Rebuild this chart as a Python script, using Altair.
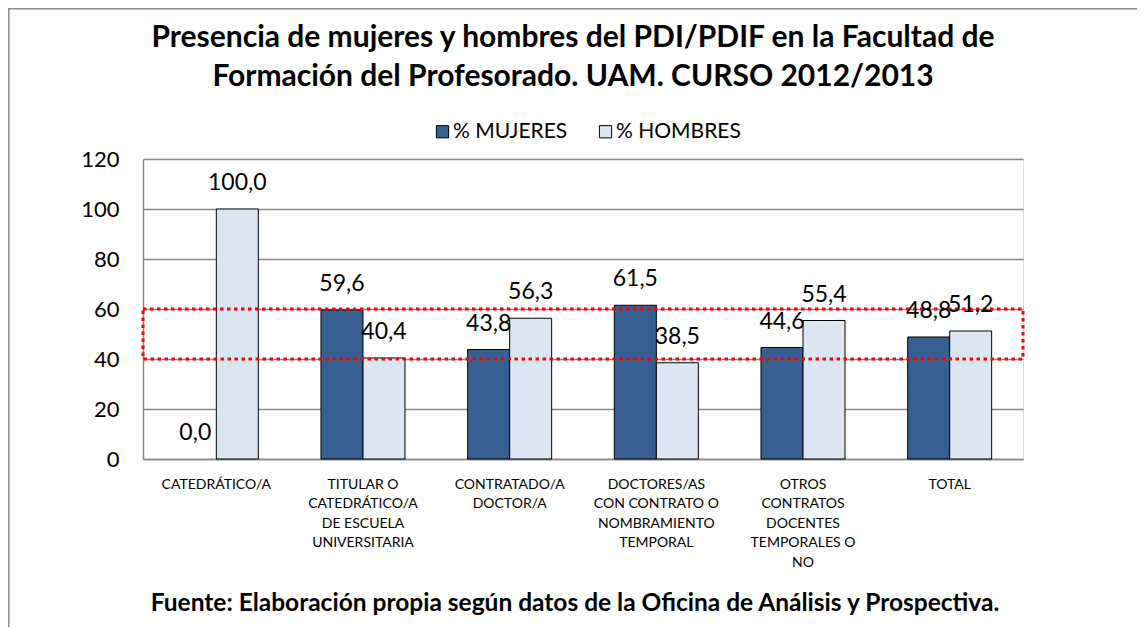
import altair as alt
import pandas as pd

categorias = [
    "CATEDRÁTICO/A",
    "TITULAR O\nCATEDRÁTICO/A\nDE ESCUELA\nUNIVERSITARIA",
    "CONTRATADO/A\nDOCTOR/A",
    "DOCTORES/AS\nCON CONTRATO O\nNOMBRAMIENTO\nTEMPORAL",
    "OTROS\nCONTRATOS\nDOCENTES\nTEMPORALES O\nNO",
    "TOTAL",
]
series = ["% MUJERES", "% HOMBRES"]
mujeres = [0.0, 59.6, 43.8, 61.5, 44.6, 48.8]
hombres = [100.0, 40.4, 56.3, 38.5, 55.4, 51.2]
franja = [40, 60]
titulo = ["Presencia de mujeres y hombres del PDI/PDIF en la Facultad de",
          "Formación  del Profesorado. UAM. CURSO 2012/2013"]
fuente = "Fuente: Elaboración propia según datos de la Oficina de Análisis y Prospectiva."
colores = ["#375F92", "#DCE6F2"]

rows = []
for c, m, h in zip(categorias, mujeres, hombres):
    rows.append({"categoria": c, "serie": series[0], "valor": m})
    rows.append({"categoria": c, "serie": series[1], "valor": h})
df = pd.DataFrame(rows)

FONT = "Lato"
W, H = 880, 300

x_enc = alt.X("categoria:N", sort=categorias,
              scale=alt.Scale(paddingInner=0.4273, paddingOuter=0.2136),
              axis=alt.Axis(title=None, labelAngle=0, labelExpr="split(datum.value, '\\n')",
                            labelFontSize=14, labelFont=FONT, labelColor="black",
                            labelLineHeight=19.5, labelPadding=18, ticks=False,
                            domainColor="#888888", domainWidth=1.5, labelLimit=200))
xoff = alt.XOffset("serie:N", sort=series)
y_enc = alt.Y("valor:Q", scale=alt.Scale(domain=[0, 120]),
              axis=alt.Axis(title=None, values=[0, 20, 40, 60, 80, 100, 120],
                            labelFontSize=22, labelFont=FONT, labelColor="black",
                            ticks=False, labelPadding=24, grid=True,
                            gridColor="#888888", gridWidth=1.5,
                            domainColor="#888888", domainWidth=1.5))

base = alt.Chart(df)

bars = base.mark_bar(stroke="black", strokeWidth=1).encode(
    x=x_enc, xOffset=xoff, y=y_enc,
    strokeOpacity=alt.condition("datum.valor > 0", alt.value(1), alt.value(0)),
    color=alt.Color("serie:N", sort=series,
                    scale=alt.Scale(domain=series, range=colores),
                    legend=alt.Legend(title=None, orient="none", direction="horizontal",
                                      legendX=289, legendY=-38, symbolType="square",
                                      symbolSize=150, symbolStrokeColor="black",
                                      symbolStrokeWidth=1, labelFontSize=21,
                                      labelFont=FONT, labelColor="black",
                                      columnPadding=27, symbolOffset=0, labelOffset=0)),
)

band = alt.Chart(pd.DataFrame({"y0": [franja[0]], "y1": [franja[1]]})).mark_rect(
    fill=None, fillOpacity=0, stroke="#FF0000", strokeWidth=3, strokeDash=[3.5, 3.5]
).encode(y="y0:Q", y2="y1:Q")

labels = base.transform_calculate(
    etiqueta="replace(format(datum.valor, '.1f'), '.', ',')"
).mark_text(fontSize=23, font=FONT, color="black", baseline="middle", dy=-26).encode(
    x=alt.X("categoria:N", sort=categorias), xOffset=xoff, y="valor:Q", text="etiqueta:N"
)

title_layer = alt.Chart(pd.DataFrame({"t": [titulo]})).mark_text(
    fontSize=30, font=FONT, fontWeight="bold", color="black", align="center",
    baseline="middle", lineHeight=39
).encode(x=alt.value(430), y=alt.value(-121), text="t")

fuente_layer = alt.Chart(pd.DataFrame({"t": [fuente]})).mark_text(
    fontSize=24.5, font=FONT, fontWeight="bold", color="black", align="center",
    baseline="middle"
).encode(x=alt.value(432), y=alt.value(445), text="t:N")

frame_top = alt.Chart(pd.DataFrame({"a": [0]})).mark_rule(color="#8c8c8c", strokeWidth=3).encode(
    x=alt.value(-135), x2=alt.value(1000), y=alt.value(-151))
frame_left = alt.Chart(pd.DataFrame({"a": [0]})).mark_rule(color="#8c8c8c", strokeWidth=3).encode(
    x=alt.value(-135), y=alt.value(-151), y2=alt.value(470))

chart = alt.layer(bars, band, labels, title_layer, fuente_layer, frame_top, frame_left).properties(
    width=W, height=H,
    autosize=alt.AutoSizeParams(type="none"),
    padding={"left": 135, "top": 151, "right": 114, "bottom": 168},
).configure_view(stroke=None).configure(background="white")

chart.save("out.html", embed_options={"renderer": "svg", "actions": False})
